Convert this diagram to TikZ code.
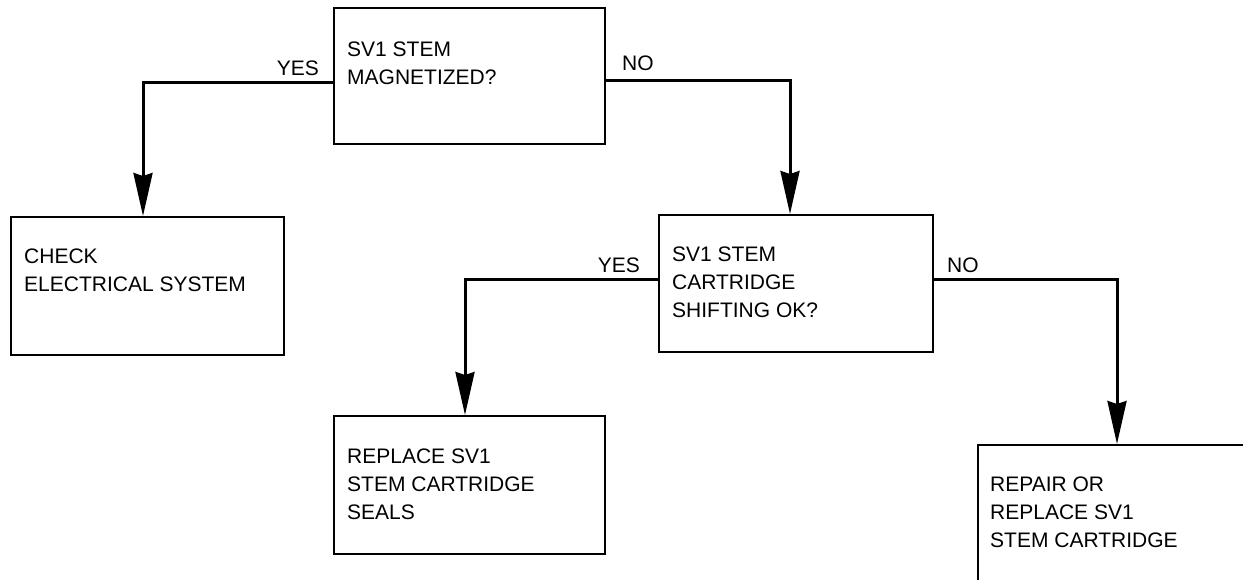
\documentclass[tikz,border=0pt]{standalone}
\usepackage{fontspec}
\setmainfont{Liberation Sans}
\usetikzlibrary{arrows.meta}
\begin{document}
\begin{tikzpicture}[x=1pt,y=-1pt,
  box/.style={draw, line width=2pt, anchor=north west, inner sep=0pt},
  txt/.style={anchor=north west, inner sep=0pt, align=left, font=\fontsize{21}{28}\selectfont},
  lbl/.style={inner sep=0pt, font=\fontsize{21}{28}\selectfont},
  conn/.style={line width=3pt, -{Stealth[length=43pt,width=19pt,inset=3pt]}}]
\useasboundingbox (0,0) rectangle (1243,579);
\clip (0,0) rectangle (1243,579);
% boxes
\node[box, minimum width=271pt, minimum height=136pt] (b1) at (333,7) {};
\node[box, minimum width=273pt, minimum height=138pt] (b2) at (10,216) {};
\node[box, minimum width=274pt, minimum height=137pt] (b3) at (658,214) {};
\node[box, minimum width=271pt, minimum height=138pt] (b4) at (333,415) {};
\node[box, minimum width=300pt, minimum height=160pt] (b5) at (977,444) {};
% texts
\node[txt] (t1) at (347,42) {SV1 STEM\\MAGNETIZED?};
\node[txt] (t2) at (24,249) {CHECK\\ELECTRICAL SYSTEM};
\node[txt] (t3) at (672,247) {SV1 STEM\\CARTRIDGE\\SHIFTING OK?};
\node[txt] (t4) at (347,449) {REPLACE SV1\\STEM CARTRIDGE\\SEALS};
\node[txt] (t5) at (990,477) {REPAIR OR\\REPLACE SV1\\STEM CARTRIDGE};
% junctions
\coordinate (j1) at (143,82);
\coordinate (j2) at (790,80);
\coordinate (j3) at (465,279);
\coordinate (j4) at (1117,279);
% connectors
\draw[conn] (b1.west |- j1) -- (j1) -- (j1 |- b2.north);
\draw[conn] (b1.east |- j2) -- (j2) -- (j2 |- b3.north);
\draw[conn] (b3.west |- j3) -- (j3) -- (j3 |- b4.north);
\draw[conn] (b3.east |- j4) -- (j4) -- (j4 |- b5.north);
% labels
\node[lbl, anchor=base east] (y1) at (319,75) {YES};
\node[lbl, anchor=base west] (n1) at (622,70) {NO};
\node[lbl, anchor=base east] (y2) at (640,272) {YES};
\node[lbl, anchor=base west] (n2) at (947,272) {NO};
\end{tikzpicture}
\end{document}
